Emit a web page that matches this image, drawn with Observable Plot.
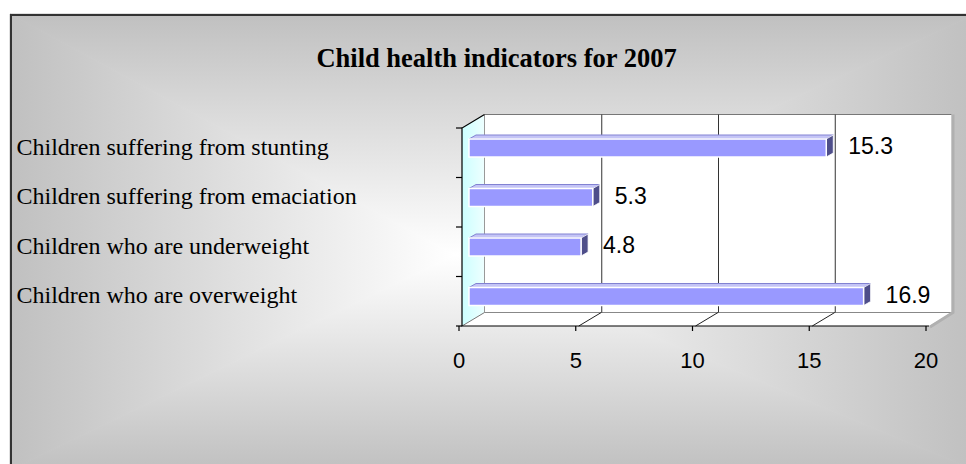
<!DOCTYPE html>
<html><head><meta charset="utf-8">
<script src="https://cdn.jsdelivr.net/npm/d3@7"></script>
<script src="https://cdn.jsdelivr.net/npm/@observablehq/plot@0.6"></script>
<style>html,body{margin:0;padding:0;background:#fff;} #chart{width:966px;height:464px;}</style>
</head><body><div id="chart"></div>
<script>
// ---- data ----
const title = "Child health indicators for 2007";
const categories = [
  "Children suffering from stunting",
  "Children suffering from emaciation",
  "Children who are underweight",
  "Children who are overweight"
];
const values = [15.3, 5.3, 4.8, 16.9];
const xTicks = [0, 5, 10, 15, 20];
const xDomain = [0, 20];

const rows = categories.map((c, i) => ({category: c, value: values[i], label: values[i].toFixed(1)}));

// ---- style constants ----
const W = 966, H = 464;
const DX = 22.5, DY = -13.5;           // 3D depth of plot box
const BAR_DX = 7, BAR_TOP = 11, BAR_H = 18, FACE_DX = 7, FACE_DY = -4;
const ns = "http://www.w3.org/2000/svg";
function el(tag, attrs, parent) {
  const e = document.createElementNS(ns, tag);
  for (const k in attrs) e.setAttribute(k, attrs[k]);
  if (parent) parent.appendChild(e);
  return e;
}
const pts = a => a.map(p => p.join(",")).join(" ");

// background: rectangular "from center" gradient + frame border
function background() {
  const g = el("g", {});
  const defs = el("defs", {}, g);
  const x0 = 10, y0 = 14, x1 = 975, y1 = 470, cx = 455, cy = 255;
  const edge = "#c0c0c0", mid = "#ffffff";
  const grads = [
    ["bgT", cx, y0, cx, cy, [[x0,y0],[x1,y0],[cx,cy]]],
    ["bgB", cx, y1, cx, cy, [[x0,y1],[x1,y1],[cx,cy]]],
    ["bgL", x0, cy, cx, cy, [[x0,y0],[x0,y1],[cx,cy]]],
    ["bgR", x1, cy, cx, cy, [[x1,y0],[x1,y1],[cx,cy]]]
  ];
  for (const [id, ax, ay, bx, by] of grads) {
    const lg = el("linearGradient", {id, gradientUnits: "userSpaceOnUse", x1: ax, y1: ay, x2: bx, y2: by}, defs);
    el("stop", {offset: 0, "stop-color": edge}, lg);
    el("stop", {offset: 1, "stop-color": mid}, lg);
  }
  for (const [id, , , , , poly] of grads) {
    el("polygon", {points: pts(poly), fill: `url(#${id})`, stroke: `url(#${id})`, "stroke-width": 1}, g);
  }
  el("path", {d: `M11,${H + 5}V15H${W + 5}`, fill: "none", stroke: "#333", "stroke-width": 2}, g);
  return g;
}

// walls and floor of the 3D box
function walls(index, scales, vals, dims) {
  const sx = scales.x;
  const L = sx(xDomain[0]), R = sx(xDomain[1]);
  const T = dims.marginTop, B = dims.height - dims.marginBottom;
  const g = el("g", {});
  const defs = el("defs", {}, g);
  const lg = el("linearGradient", {id: "lwall", x1: 0, y1: 0, x2: 1, y2: 0}, defs);
  el("stop", {offset: 0, "stop-color": "#ccffff"}, lg);
  el("stop", {offset: 1, "stop-color": "#eeffff"}, lg);
  // back wall
  el("rect", {x: L + DX, y: T + DY, width: R - L, height: B - T, fill: "#fff"}, g);
  // left wall
  el("polygon", {points: pts([[L,T],[L+DX,T+DY],[L+DX,B+DY],[L,B]]), fill: "url(#lwall)"}, g);
  // floor
  el("polygon", {points: pts([[L,B],[R,B],[R+DX,B+DY],[L+DX,B+DY]]), fill: "#fff"}, g);
  // edges
  el("line", {x1: L + DX, y1: T + DY, x2: R + DX, y2: T + DY, stroke: "#777", "stroke-width": 1}, g);
  el("line", {x1: L + DX, y1: T + DY, x2: L + DX, y2: B + DY, stroke: "#999", "stroke-width": 1}, g);
  el("line", {x1: L + DX, y1: B + DY, x2: R + DX, y2: B + DY, stroke: "#888", "stroke-width": 1}, g);
  el("path", {d: `M${R + DX + 1.5},${T + DY}V${B + DY}L${R + 1},${B + 1}`, fill: "none", stroke: "#b0b0b0", "stroke-width": 3}, g);
  el("line", {x1: L, y1: B, x2: L + DX, y2: B + DY, stroke: "#777", "stroke-width": 1}, g);
  // floor grid diagonals
  for (const t of xTicks.slice(1, -1)) {
    el("line", {x1: sx(t), y1: B, x2: sx(t) + DX, y2: B + DY, stroke: "#222", "stroke-width": 1}, g);
  }
  return g;
}

// axis lines, top diagonal and category boundary ticks
function axisLines(index, scales, vals, dims) {
  const sx = scales.x, sy = scales.y;
  const L = sx(xDomain[0]), R = sx(xDomain[1]);
  const T = dims.marginTop, B = dims.height - dims.marginBottom;
  const g = el("g", {stroke: "#000", "stroke-width": 1.2, fill: "none"});
  el("path", {d: `M${L + DX},${T + DY}L${L},${T}V${B}H${R}`}, g);
  const bounds = categories.map(c => sy(c)).concat([sy(categories[categories.length - 1]) + sy.bandwidth()]);
  for (const b of bounds) el("line", {x1: L - 6, x2: L, y1: b, y2: b}, g);
  return g;
}

// top and end faces of the 3D bars
function barFaces(index, scales) {
  const sx = scales.x, sy = scales.y;
  const g = el("g", {});
  for (const r of rows) {
    const y = sy(r.category) + BAR_TOP;
    const x1 = sx(0) + BAR_DX, x2 = sx(r.value) + BAR_DX;
    el("polygon", {points: pts([[x1, y], [x2, y], [x2 + FACE_DX, y + FACE_DY], [x1 + FACE_DX, y + FACE_DY]]),
      fill: "#c4c4f6", stroke: "#8282d2", "stroke-width": 1, "stroke-linejoin": "round"}, g);
    el("polygon", {points: pts([[x2, y], [x2 + FACE_DX, y + FACE_DY], [x2 + FACE_DX, y + FACE_DY + BAR_H], [x2, y + BAR_H]]),
      fill: "#4e4e8a", stroke: "#fff", "stroke-width": 0.8}, g);
  }
  return g;
}

const chart = Plot.plot({
  width: W,
  height: H,
  marginLeft: 462,
  marginRight: 37,
  marginTop: 128,
  marginBottom: 138,
  style: {background: "transparent", overflow: "visible"},
  x: {domain: xDomain, ticks: xTicks},
  y: {domain: categories, padding: 0, round: false},
  marks: [
    background,
    walls,
    Plot.ruleX(xTicks.slice(1, -1), {dx: DX, dy: DY, stroke: "#333", strokeWidth: 1}),
    barFaces,
    Plot.barX(rows, {x: "value", y: "category", fill: "#9999ff", stroke: "#fff", strokeWidth: 1.5,
      insetTop: BAR_TOP, insetBottom: 49.5 - BAR_TOP - BAR_H, dx: BAR_DX}),
    axisLines,
    Plot.axisX({ticks: xTicks, tickSize: 5, tickPadding: 21, fontSize: 22, fontFamily: "Liberation Sans, Arial, sans-serif",
      dx: -3.5, label: null, stroke: "#000", strokeWidth: 1.2, fill: "#000"}),
    Plot.axisY({tickSize: 0, tickPadding: 0, textAnchor: "start", dx: -446, dy: -6, fontSize: 24,
      fontFamily: "Liberation Serif, Times New Roman, serif", label: null, fill: "#000"}),
    Plot.text(rows, {x: "value", y: "category", text: "label", textAnchor: "start", dx: 28.5, dy: -6.5,
      fontSize: 23, fontFamily: "Liberation Sans, Arial, sans-serif", fill: "#000"}),
    Plot.text([title], {frameAnchor: "top-left", dx: 34, dy: -70.3, textAnchor: "middle", lineAnchor: "middle",
      fontSize: 26.5, fontWeight: "bold", fontFamily: "Liberation Serif, Times New Roman, serif", fill: "#000"})
  ]
});
document.getElementById("chart").appendChild(chart);
</script>
</body></html>
